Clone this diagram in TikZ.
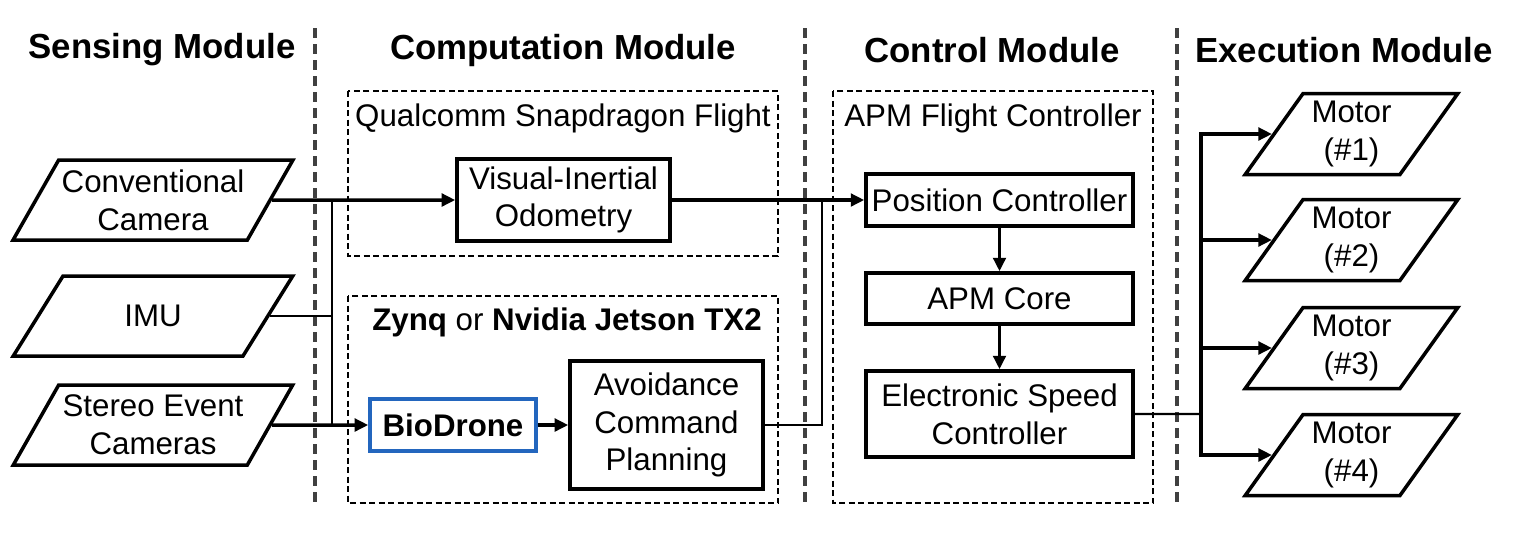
\documentclass[tikz,border=0pt]{standalone}
\usepackage{fontspec}
\setmainfont{Liberation Sans}
\usetikzlibrary{shapes.geometric,arrows.meta,positioning}

\definecolor{bioblue}{RGB}{35,102,190}
\def\sensewidth{5.6cm}
\def\motorwidth{4.26cm}
\def\ctlwidth{5.34cm}
\tikzstyle{block} = [rectangle,
draw=black,
line width=2pt,
align=center,
inner sep=0pt,
font=\fontsize{17.8}{21.5}\selectfont]
\tikzstyle{io} = [trapezium,
trapezium left angle=54,
trapezium right angle=126,
trapezium stretches,
minimum height=1.6cm,
draw=black,
line width=2pt,
align=center,
inner sep=0pt,
font=\fontsize{17.8}{21.5}\selectfont]
\tikzstyle{group} = [draw=black, line width=1.3pt, dash pattern=on 0.12cm off 0.07cm]
\tikzstyle{divider} = [draw=black!75, line width=2pt, dash pattern=on 0.2cm off 0.12cm]
\tikzstyle{title} = [font=\fontsize{19.8}{24}\selectfont\bfseries]
\tikzstyle{grouptitle} = [font=\fontsize{17.8}{21.5}\selectfont]
\tikzstyle{flow} = [-{Triangle[length=0.27cm,width=0.25cm]}, line width=2pt]
\tikzstyle{wire} = [line width=1.4pt]

\begin{document}
\begin{tikzpicture}
    \useasboundingbox (0,0) rectangle (30.36,-10.84);
    %%%%%%%%%%%%%%%%%%%%%%%%%%%%%%%%%%%%%%%%
    % Module titles and dividers
    %%%%%%%%%%%%%%%%%%%%%%%%%%%%%%%%%%%%%%%%
    \node (sensing) [title] at (3.24,-1.0) {Sensing Module};
    \node (computation) [title] at (11.26,-1.0) {Computation Module};
    \node (control) [title] at (19.84,-1.0) {Control Module};
    \node (execution) [title] at (26.88,-1.0) {Execution Module};
    \draw [divider] (6.3,-0.56) -- (6.3,-10.14);
    \draw [divider] (16.1,-0.56) -- (16.1,-10.14);
    \draw [divider] (23.54,-0.56) -- (23.54,-10.14);
    %%%%%%%%%%%%%%%%%%%%%%%%%%%%%%%%%%%%%%%%
    % Sensors
    %%%%%%%%%%%%%%%%%%%%%%%%%%%%%%%%%%%%%%%%
    \node (conv) [io, minimum width=\sensewidth] at (3.06,-4.0) {Conventional\\Camera};
    \node (imu) [io, minimum width=\sensewidth] at (3.06,-6.32) {IMU};
    \node (stereo) [io, minimum width=\sensewidth] at (3.06,-8.5) {Stereo Event\\Cameras};
    %%%%%%%%%%%%%%%%%%%%%%%%%%%%%%%%%%%%%%%%
    % Computation
    %%%%%%%%%%%%%%%%%%%%%%%%%%%%%%%%%%%%%%%%
    \draw [group] (6.96,-1.82) rectangle (15.56,-5.12);
    \node (snapdragon) [grouptitle] at (11.26,-2.36) {Qualcomm Snapdragon Flight};
    \draw [group] (6.96,-5.92) rectangle (15.56,-10.06);
    \node (zynq) [grouptitle] at (11.34,-6.44) {\textbf{Zynq} or \textbf{Nvidia Jetson TX2}};
    \node (vio) [block, minimum width=4.26cm, minimum height=1.64cm] at (11.27,-4.0) {Visual-Inertial\\Odometry};
    \node (bio) [block, draw=bioblue, minimum width=3.32cm, minimum height=1.04cm] at (9.06,-8.5) {\textbf{BioDrone}};
    \node (avoid) [block, minimum width=3.86cm, minimum height=2.56cm] at (13.33,-8.5) {Avoidance\\Command\\Planning};
    %%%%%%%%%%%%%%%%%%%%%%%%%%%%%%%%%%%%%%%%
    % Control
    %%%%%%%%%%%%%%%%%%%%%%%%%%%%%%%%%%%%%%%%
    \draw [group] (16.66,-1.82) rectangle (23.06,-10.06);
    \node (apmflight) [grouptitle] at (19.86,-2.36) {APM Flight Controller};
    \node (pos) [block, minimum width=\ctlwidth, minimum height=1.04cm] at (19.99,-4.0) {Position Controller};
    \node (apm) [block, minimum width=\ctlwidth, minimum height=1.02cm, below of=pos, node distance=1.97cm] {APM Core};
    \node (esc) [block, minimum width=\ctlwidth, minimum height=1.72cm, below of=apm, node distance=2.31cm] {Electronic Speed\\Controller};
    %%%%%%%%%%%%%%%%%%%%%%%%%%%%%%%%%%%%%%%%
    % Motors
    %%%%%%%%%%%%%%%%%%%%%%%%%%%%%%%%%%%%%%%%
    \node (motor1) [io, minimum width=\motorwidth, minimum height=1.62cm] at (27.03,-2.68) {Motor\\(\#1)};
    \node (motor2) [io, minimum width=\motorwidth, minimum height=1.62cm] at (27.03,-4.8) {Motor\\(\#2)};
    \node (motor3) [io, minimum width=\motorwidth, minimum height=1.62cm] at (27.03,-6.96) {Motor\\(\#3)};
    \node (motor4) [io, minimum width=\motorwidth, minimum height=1.62cm] at (27.03,-9.1) {Motor\\(\#4)};
    %%%%%%%%%%%%%%%%%%%%%%%%%%%%%%%%%%%%%%%%
    % Connections
    %%%%%%%%%%%%%%%%%%%%%%%%%%%%%%%%%%%%%%%%
    \coordinate (sensebus) at (6.64,-4.0);
    \coordinate (ctlbus) at (16.44,-4.0);
    \coordinate (motorbus) at (24.02,-8.28);
    \draw [flow] (conv.east) -- (vio.west);
    \draw [wire] (sensebus) -- (sensebus |- stereo.east);
    \draw [wire] (imu.east) -- (sensebus |- imu.east);
    \draw [flow] (stereo.east) -- (bio.west);
    \draw [flow] (bio.east) -- (avoid.west);
    \draw [flow] (vio.east) -- (pos.west);
    \draw [wire] (avoid.east) -| (ctlbus);
    \draw [flow] (pos.south) -- (apm.north);
    \draw [flow] (apm.south) -- (esc.north);
    \draw [wire] (esc.east) -- (motorbus);
    \draw [flow] (motorbus) |- (motor1.west);
    \draw [flow] (motorbus) |- (motor2.west);
    \draw [flow] (motorbus) |- (motor3.west);
    \draw [flow] (motorbus) |- (motor4.west);
\end{tikzpicture}
\end{document}
